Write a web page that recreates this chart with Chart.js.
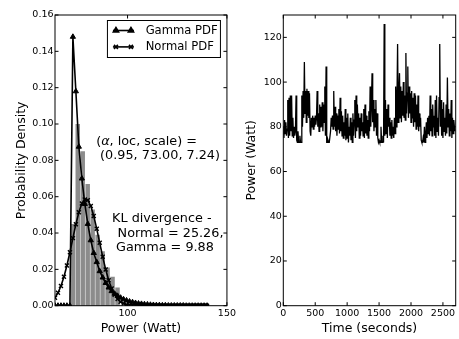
<!DOCTYPE html>
<html>
<head>
<meta charset="utf-8">
<script src="https://cdn.jsdelivr.net/npm/chart.js@4.4.1/dist/chart.umd.min.js"></script>
<style>
  html, body { margin: 0; padding: 0; background: #fff; }
  #wrap { position: relative; width: 459px; height: 339px; overflow: hidden; }
  #c1 { position: absolute; left: 0; top: 0; }
  #c2 { position: absolute; left: 238px; top: 0; }
</style>
</head>
<body>
<div id="wrap">
  <canvas id="c1" width="238" height="339"></canvas>
  <canvas id="c2" width="221" height="339"></canvas>
</div>
<script>
// ---- left panel: histogram + fitted pdfs ----
const histCenters = [72.45, 74.95, 77.45, 79.95, 82.45, 84.95, 87.45, 89.95, 92.45, 94.95];
const histDensity = [0.045, 0.100, 0.085, 0.067, 0.053, 0.039, 0.030, 0.021, 0.016, 0.010];

const pdfX = [63.5, 65, 66.5, 68, 69.5, 71, 72.5, 74, 75.5, 77,
  78.5, 80, 81.5, 83, 84.5, 86, 87.5, 89, 90.5, 92,
  93.5, 95, 96.5, 98, 99.5, 101, 102.5, 104, 105.5, 107,
  108.5, 110, 111.5, 113, 114.5, 116, 117.5, 119, 120.5, 122,
  123.5, 125, 126.5, 128, 129.5, 131, 132.5, 134, 135.5, 137,
  138.5, 140];
const gammaPdf = [0, 0, 0, 0, 0, 0, 0.148, 0.118, 0.0875, 0.070,
  0.056, 0.045, 0.036, 0.029, 0.024, 0.019, 0.0155, 0.0125, 0.010, 0.008,
  0.0066, 0.0054, 0.0044, 0.0035, 0.0029, 0.0023, 0.0019, 0.0015, 0.0012, 0.0010,
  0.0008, 0.0007, 0.0005, 0.0004, 0.0003, 0.0003, 0.0002, 0.0002, 0.0001, 0.0001,
  0.0001, 0.0001, 0.0001, 0.0001, 0, 0, 0, 0, 0, 0,
  0, 0];
const normalPdf = [0.0044, 0.0071, 0.0108, 0.0159, 0.0221, 0.0294, 0.0372, 0.0448, 0.0514, 0.0562,
  0.0585, 0.0581, 0.0549, 0.0494, 0.0423, 0.0346, 0.0269, 0.0199, 0.0140, 0.0095,
  0.0060, 0.0037, 0.0021, 0.0012, 0.0006, 0.0003, 0.0002, 0.0001, 0, 0,
  0, 0, 0, 0, 0, 0, 0, 0, 0, 0,
  0, 0, 0, 0, 0, 0, 0, 0, 0, 0,
  0, 0];

const histXTicks = [100, 150];
const histYTicks = [0, 0.02, 0.04, 0.06, 0.08, 0.10, 0.12, 0.14, 0.16];

// ---- right panel: power trace, one sample every 10 s ----
const sampleStep = 10;
const powerWatts = [
  80, 75, 83, 77, 82, 76, 79, 92, 75, 93,
  76, 94, 78, 94, 76, 84, 75, 80, 76, 78,
  94, 74, 73, 78, 73, 73, 76, 73, 73, 94,
  80, 96, 84, 109, 86, 96, 82, 97, 85, 96,
  84, 95, 78, 76, 84, 80, 85, 79, 84, 80,
  85, 81, 84, 96, 80, 86, 78, 90, 80, 89,
  80, 91, 78, 90, 82, 98, 76, 107, 73, 73,
  74, 73, 73, 73, 78, 84, 80, 85, 79, 96,
  80, 89, 78, 86, 76, 85, 79, 88, 77, 93,
  78, 87, 76, 85, 75, 82, 76, 88, 74, 84,
  75, 86, 73, 80, 76, 84, 74, 82, 73, 86,
  76, 83, 92, 75, 94, 78, 90, 80, 86, 75,
  84, 76, 86, 78, 82, 76, 88, 75, 90, 77,
  85, 76, 83, 75, 87, 78, 98, 80, 90, 104,
  82, 92, 78, 88, 80, 92, 76, 86, 75, 73,
  74, 73, 73, 80, 73, 73, 76, 73, 126, 76,
  92, 77, 88, 75, 90, 80, 84, 76, 82, 75,
  83, 76, 80, 75, 84, 77, 98, 80, 92, 117,
  82, 95, 104, 84, 98, 82, 96, 85, 100, 84,
  94, 83, 113, 86, 95, 107, 84, 98, 86, 95,
  82, 96, 84, 93, 80, 95, 82, 94, 79, 90,
  80, 94, 78, 86, 80, 84, 74, 73, 73, 75,
  73, 80, 73, 76, 82, 75, 84, 77, 85, 76,
  94, 78, 88, 76, 90, 80, 85, 76, 92, 75,
  94, 78, 84, 76, 93, 117, 80, 92, 76, 88,
  75, 91, 78, 84, 76, 90, 77, 102, 80, 88,
  76, 86, 78, 92, 75, 84, 77, 83, 80, 78
];
const powerSeconds = powerWatts.map((_, i) => i * sampleStep);
const timeXTicks = [0, 500, 1000, 1500, 2000, 2500];
const timeYTicks = [0, 20, 40, 60, 80, 100, 120];

Chart.defaults.font.family = "'DejaVu Sans', sans-serif";
Chart.defaults.color = '#000';

// matplotlib-style box with inward ticks on all four sides
const frameTicks = {
  id: 'frameTicks',
  afterDraw(chart) {
    const { ctx, chartArea: a, scales: { x, y } } = chart;
    const len = 3.5;
    ctx.save();
    ctx.strokeStyle = '#000';
    ctx.lineWidth = 1;
    ctx.strokeRect(a.left, a.top, a.right - a.left, a.bottom - a.top);
    ctx.beginPath();
    x.ticks.forEach(t => {
      const p = x.getPixelForValue(t.value);
      ctx.moveTo(p, a.bottom); ctx.lineTo(p, a.bottom - len);
      ctx.moveTo(p, a.top); ctx.lineTo(p, a.top + len);
    });
    y.ticks.forEach(t => {
      const p = y.getPixelForValue(t.value);
      ctx.moveTo(a.left, p); ctx.lineTo(a.left + len, p);
      ctx.moveTo(a.right, p); ctx.lineTo(a.right - len, p);
    });
    ctx.stroke();
    ctx.restore();
  }
};

// legend box and text notes of the left panel
const leftNotes = {
  id: 'leftNotes',
  afterDraw(chart) {
    const { ctx, chartArea: a, scales: { x, y } } = chart;
    const ds = chart.data.datasets;
    ctx.save();

    // legend
    const bx = a.right - 120, by = a.top + 5, bw = 113, bh = 37;
    ctx.fillStyle = '#fff';
    ctx.fillRect(bx, by, bw, bh);
    ctx.strokeStyle = '#000';
    ctx.lineWidth = 1;
    ctx.strokeRect(bx + 0.5, by + 0.5, bw, bh);
    ctx.font = "11.6px 'DejaVu Sans'";
    ctx.textBaseline = 'middle';
    [0, 1].forEach((k, row) => {
      const d = ds[k];
      const ly = by + 10.5 + row * 16.4;
      ctx.strokeStyle = '#000';
      ctx.lineWidth = d.borderWidth;
      ctx.beginPath();
      ctx.moveTo(bx + 6, ly); ctx.lineTo(bx + 27, ly);
      ctx.stroke();
      ctx.fillStyle = '#000';
      [bx + 9, bx + 24].forEach(px => {
        Chart.helpers.drawPoint(ctx, { pointStyle: d.pointStyle, radius: d.pointRadius, borderWidth: d.pointBorderWidth }, px, ly);
      });
      ctx.fillStyle = '#000';
      ctx.fillText(d.label, bx + 38.7, ly);
    });

    // annotations, anchored in data coordinates (left edge, middle)
    const size = 12.8;
    const reg = size + "px 'DejaVu Sans'";
    const ita = "italic " + size + "px 'DejaVu Sans'";
    ctx.fillStyle = '#000';
    ctx.textAlign = 'left';
    ctx.textBaseline = 'middle';
    let px = x.getPixelForValue(84.2), py = y.getPixelForValue(0.0903);
    ctx.font = reg; ctx.fillText('(', px, py); px += ctx.measureText('(').width;
    ctx.font = ita; ctx.fillText('\u03b1', px, py); px += ctx.measureText('\u03b1').width;
    ctx.font = reg; ctx.fillText(', loc, scale) =', px, py);
    const lines = [
      ['(0.95, 73.00, 7.24)', 86.2, 0.0824],
      ['KL divergence -', 92.2, 0.0481],
      ['Normal = 25.26,', 95.0, 0.0398],
      ['Gamma = 9.88', 94.2, 0.0319]
    ];
    lines.forEach(([txt, vx, vy]) => {
      ctx.fillText(txt, x.getPixelForValue(vx), y.getPixelForValue(vy));
    });
    ctx.restore();
  }
};

const tickFont = { size: 9.5 };
const titleFont = { size: 12.5 };

new Chart(document.getElementById('c1'), {
  type: 'line',
  data: {
    datasets: [
      {
        label: 'Gamma PDF',
        data: pdfX.map((v, i) => ({ x: v, y: gammaPdf[i] })),
        borderColor: '#000', borderWidth: 1.6, tension: 0,
        pointStyle: 'triangle', pointRadius: 3, pointBorderWidth: 1,
        pointBackgroundColor: '#000', pointBorderColor: '#000',
        order: 1
      },
      {
        label: 'Normal PDF',
        data: pdfX.map((v, i) => ({ x: v, y: normalPdf[i] })),
        borderColor: '#000', borderWidth: 1.6, tension: 0,
        pointStyle: 'crossRot', pointRadius: 2.8, pointBorderWidth: 1.4,
        pointBackgroundColor: '#000', pointBorderColor: '#000',
        order: 2
      },
      {
        type: 'bar',
        label: 'hist',
        data: histCenters.map((v, i) => ({ x: v, y: histDensity[i] })),
        backgroundColor: '#8c8c8c',
        barPercentage: 0.9, categoryPercentage: 1,
        order: 3
      }
    ]
  },
  options: {
    responsive: false,
    animation: false,
    layout: { padding: { top: 15, right: 9, bottom: 0, left: 0 } },
    plugins: { legend: { display: false }, tooltip: { enabled: false } },
    scales: {
      x: {
        type: 'linear', min: 63.5, max: 150, offset: false,
        grid: { display: false, drawTicks: false }, border: { display: false },
        afterBuildTicks: s => { s.ticks = histXTicks.map(v => ({ value: v })); },
        afterFit: s => { s.height = 33.3; },
        ticks: { padding: 2, font: tickFont, maxRotation: 0, autoSkip: false, callback: v => String(v) },
        title: { display: true, text: 'Power (Watt)', font: titleFont, padding: { top: 0, bottom: 3.2 } }
      },
      y: {
        type: 'linear', min: 0, max: 0.16,
        grid: { display: false, drawTicks: false }, border: { display: false },
        afterBuildTicks: s => { s.ticks = histYTicks.map(v => ({ value: v })); },
        afterFit: s => { s.width = 55; },
        ticks: { padding: 1.5, font: tickFont, callback: v => v.toFixed(2) },
        title: { display: true, text: 'Probability Density', font: titleFont, padding: { top: 14, bottom: 0 } }
      }
    }
  },
  plugins: [frameTicks, leftNotes]
});

new Chart(document.getElementById('c2'), {
  type: 'line',
  data: {
    datasets: [{
      label: 'Power',
      data: powerSeconds.map((t, i) => ({ x: t, y: powerWatts[i] })),
      borderColor: '#000', borderWidth: 1.3, pointRadius: 0, tension: 0
    }]
  },
  options: {
    responsive: false,
    animation: false,
    layout: { padding: { top: 15, right: 3.3, bottom: 0, left: 0 } },
    plugins: { legend: { display: false }, tooltip: { enabled: false } },
    scales: {
      x: {
        type: 'linear', min: 0, max: 2700,
        grid: { display: false, drawTicks: false }, border: { display: false },
        afterBuildTicks: s => { s.ticks = timeXTicks.map(v => ({ value: v })); },
        afterFit: s => { s.height = 33.3; },
        ticks: { padding: 2, font: tickFont, maxRotation: 0, autoSkip: false, callback: v => String(v) },
        title: { display: true, text: 'Time (seconds)', font: titleFont, padding: { top: 0, bottom: 3.2 } }
      },
      y: {
        type: 'linear', min: 0, max: 130,
        grid: { display: false, drawTicks: false }, border: { display: false },
        afterBuildTicks: s => { s.ticks = timeYTicks.map(v => ({ value: v })); },
        afterFit: s => { s.width = 45.3; },
        ticks: { padding: 1.5, font: tickFont, callback: v => String(v) },
        title: { display: true, text: 'Power (Watt)', font: titleFont, padding: { top: 6, bottom: 0 } }
      }
    }
  },
  plugins: [frameTicks]
});
</script>
</body>
</html>
